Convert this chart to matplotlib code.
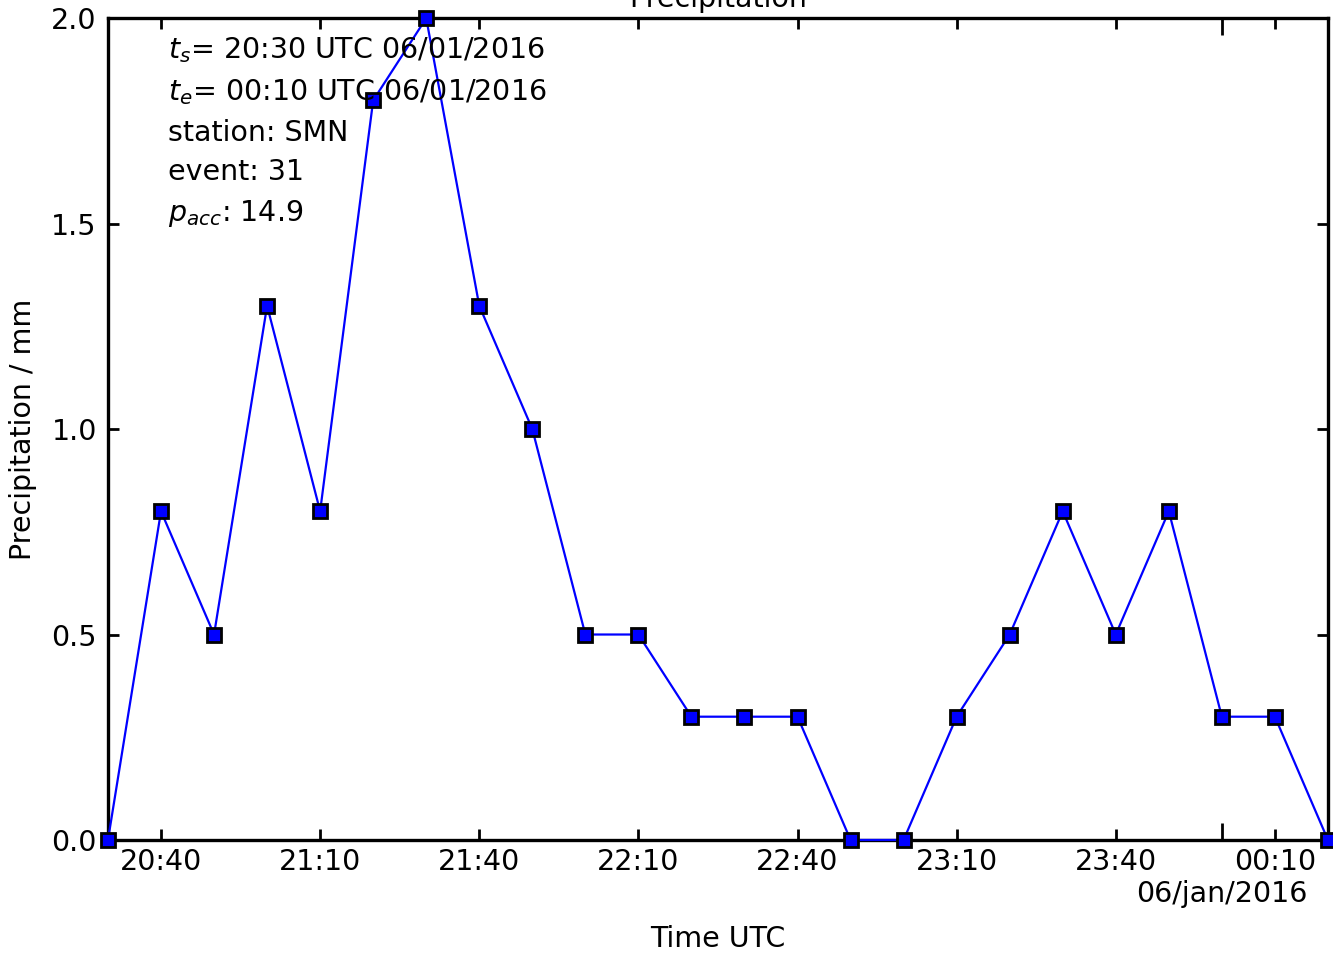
import matplotlib
matplotlib.use("Agg")
import matplotlib.pyplot as plt
import matplotlib.dates as mdates
import matplotlib.ticker as mticker
import pandas as pd

# 10-minute precipitation records, event 31 (SMN)
times = ["2016-01-06 20:30", "2016-01-06 20:40", "2016-01-06 20:50", "2016-01-06 21:00",
         "2016-01-06 21:10", "2016-01-06 21:20", "2016-01-06 21:30", "2016-01-06 21:40",
         "2016-01-06 21:50", "2016-01-06 22:00", "2016-01-06 22:10", "2016-01-06 22:20",
         "2016-01-06 22:30", "2016-01-06 22:40", "2016-01-06 22:50", "2016-01-06 23:00",
         "2016-01-06 23:10", "2016-01-06 23:20", "2016-01-06 23:30", "2016-01-06 23:40",
         "2016-01-06 23:50", "2016-01-07 00:00", "2016-01-07 00:10", "2016-01-07 00:20"]
precip = [0.0, 0.8, 0.5, 1.3, 0.8, 1.8, 2.0, 1.3, 1.0, 0.5, 0.5, 0.3,
          0.3, 0.3, 0.0, 0.0, 0.3, 0.5, 0.8, 0.5, 0.8, 0.3, 0.3, 0.0]
y_ticks = [0.0, 0.5, 1.0, 1.5, 2.0]
date_label = "06/jan/2016"
info_lines = [r"$t_s$= 20:30 UTC 06/01/2016",
              r"$t_e$= 00:10 UTC 06/01/2016",
              "station: SMN",
              "event: 31",
              r"$p_{acc}$: 14.9"]

t = pd.to_datetime(times)
fs = 20.5

fig = plt.figure(figsize=(13.33, 9.57), dpi=100)
ax = fig.add_axes([0.081, 0.1223, 0.9152, 0.8587])

ax.plot(t, precip, color="blue", lw=1.6, marker="s", markersize=10,
        markerfacecolor="blue", markeredgecolor="black", markeredgewidth=2,
        clip_on=False, zorder=3)

ax.set_xlim(t[0], t[-1])
ax.set_ylim(0, 2.0)
ax.set_yticks(y_ticks)
ax.yaxis.set_major_formatter(mticker.FormatStrFormatter("%.1f"))

ax.xaxis.set_minor_locator(mdates.MinuteLocator(byminute=[10, 40]))
ax.xaxis.set_minor_formatter(mdates.DateFormatter("%H:%M"))
ax.xaxis.set_major_locator(mdates.HourLocator(byhour=[0]))
ax.xaxis.set_major_formatter(mticker.FuncFormatter(lambda v, p: date_label))

ax.tick_params(which="both", direction="in", top=True, right=True, labelsize=fs, width=2)
ax.tick_params(axis="x", which="minor", length=8, pad=6)
ax.tick_params(axis="x", which="major", length=12, pad=29)
ax.tick_params(axis="y", which="major", length=8, pad=8)
for s in ax.spines.values():
    s.set_linewidth(2.4)

ax.set_title("Precipitation", fontsize=fs, pad=8)
ax.set_xlabel("Time UTC", fontsize=fs, labelpad=12)
ax.set_ylabel("Precipitation / mm", fontsize=fs, labelpad=10)

# event info block in the upper-left corner
y_pos = [0.961, 0.910, 0.860, 0.813, 0.762]
for txt, yy in zip(info_lines, y_pos):
    ax.text(0.049, yy, txt, transform=ax.transAxes, fontsize=fs, va="center", ha="left")

fig.savefig("out.png", dpi=100)
